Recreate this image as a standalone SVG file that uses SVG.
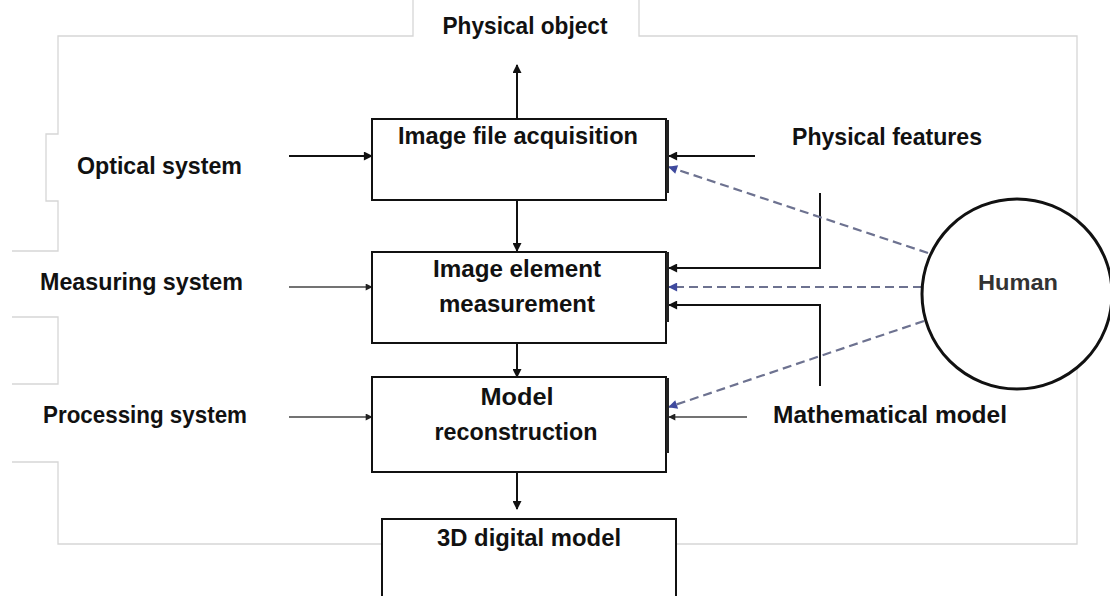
<svg xmlns="http://www.w3.org/2000/svg" width="1110" height="596" viewBox="0 0 1110 596">
  <defs>
    <marker id="ah" viewBox="0 0 10 10" refX="9" refY="5" markerWidth="10" markerHeight="9" markerUnits="userSpaceOnUse" orient="auto">
      <path d="M0,0 L10,5 L0,10 z" fill="#111"/>
    </marker>
    <marker id="ahs" viewBox="0 0 10 10" refX="9" refY="5" markerWidth="8" markerHeight="7" markerUnits="userSpaceOnUse" orient="auto">
      <path d="M0,0 L10,5 L0,10 z" fill="#222"/>
    </marker>
    <marker id="ahb" viewBox="0 0 10 10" refX="9" refY="5" markerWidth="11" markerHeight="9" markerUnits="userSpaceOnUse" orient="auto">
      <path d="M0,0 L10,5 L0,10 z" fill="#3f4a9e"/>
    </marker>
  </defs>
  <style>
    text { font-family: "Liberation Sans", Arial, sans-serif; font-weight: bold; fill: #111; font-size: 24px; }
    .box { fill: #fff; stroke: #111; stroke-width: 2; }
    .bar { stroke: #222; stroke-width: 3; }
    .frame { fill: none; stroke: #d6d6d6; stroke-width: 1.3; }
    .thick { stroke: #111; stroke-width: 2; fill: none; }
    .thin { stroke: #444; stroke-width: 1.3; fill: none; }
    .dash { stroke: #6d7290; stroke-width: 2.2; stroke-dasharray: 9 5; fill: none; }
  </style>
  <rect width="1110" height="596" fill="#fff"/>

  <!-- light outer frame, interrupted by the side labels -->
  <g id="frame" class="frame">
    <path d="M413,0 V36 H58 V134 H46 V201 H58 V251 H12"/>
    <path d="M12,317 H58 V384 H12"/>
    <path d="M12,462 H58 V544 H382"/>
    <path d="M675,544 H1077 V36 H639 V0"/>
  </g>

  <!-- connectors -->
  <g id="connectors">
    <line class="thick" x1="517" y1="118" x2="517" y2="65" marker-end="url(#ah)"/>
    <line class="thick" x1="517" y1="200" x2="517" y2="251" marker-end="url(#ah)"/>
    <line class="thick" x1="517" y1="343" x2="517" y2="377" marker-end="url(#ah)"/>
    <line class="thick" x1="517" y1="472" x2="517" y2="509" marker-end="url(#ah)"/>

    <line class="thick" x1="289" y1="156" x2="372" y2="156" marker-end="url(#ah)"/>
    <line class="thin" x1="289" y1="287" x2="372" y2="287" marker-end="url(#ahs)"/>
    <line class="thin" x1="289" y1="417" x2="372" y2="417" marker-end="url(#ahs)"/>

    <line class="thick" x1="755" y1="156" x2="669" y2="156" marker-end="url(#ah)"/>
    <path class="thick" d="M820,193 V268 H669" marker-end="url(#ah)"/>
    <path class="thick" d="M820,386 V305 H669" marker-end="url(#ah)"/>
    <line class="thin" x1="747" y1="417" x2="669" y2="417" marker-end="url(#ahs)"/>

    <line class="dash" x1="928" y1="253" x2="669" y2="167" marker-end="url(#ahb)"/>
    <line class="dash" x1="922" y1="287" x2="669" y2="287" marker-end="url(#ahb)"/>
    <line class="dash" x1="924" y1="321" x2="669" y2="407" marker-end="url(#ahb)"/>
  </g>

  <g id="physical-object">
    <text x="525" y="34" text-anchor="middle" textLength="165" lengthAdjust="spacingAndGlyphs">Physical object</text>
  </g>

  <g id="optical-system">
    <text x="77" y="174" textLength="165" lengthAdjust="spacingAndGlyphs">Optical system</text>
  </g>
  <g id="measuring-system">
    <text x="40" y="290" textLength="203" lengthAdjust="spacingAndGlyphs">Measuring system</text>
  </g>
  <g id="processing-system">
    <text x="43" y="423" textLength="204" lengthAdjust="spacingAndGlyphs">Processing system</text>
  </g>

  <g id="physical-features">
    <text x="792" y="145" textLength="190" lengthAdjust="spacingAndGlyphs">Physical features</text>
  </g>
  <g id="mathematical-model">
    <text x="773" y="423" textLength="234" lengthAdjust="spacingAndGlyphs">Mathematical model</text>
  </g>

  <g id="image-file-acquisition">
    <rect class="box" x="372" y="119" width="294" height="81"/>
    <line class="bar" x1="667.5" y1="120" x2="667.5" y2="193"/>
    <text x="518" y="144" text-anchor="middle" textLength="240" lengthAdjust="spacingAndGlyphs">Image file acquisition</text>
  </g>

  <g id="image-element-measurement">
    <rect class="box" x="372" y="252" width="294" height="91"/>
    <line class="bar" x1="667.5" y1="252" x2="667.5" y2="322"/>
    <text x="517" y="277" text-anchor="middle" textLength="168" lengthAdjust="spacingAndGlyphs">Image element</text>
    <text x="517" y="312" text-anchor="middle" textLength="156" lengthAdjust="spacingAndGlyphs">measurement</text>
  </g>

  <g id="model-reconstruction">
    <rect class="box" x="372" y="377" width="294" height="95"/>
    <line class="bar" x1="667.5" y1="378" x2="667.5" y2="453"/>
    <text x="517" y="405" text-anchor="middle" textLength="73" lengthAdjust="spacingAndGlyphs">Model</text>
    <text x="516" y="440" text-anchor="middle" textLength="163" lengthAdjust="spacingAndGlyphs">reconstruction</text>
  </g>

  <g id="digital-model">
    <rect class="box" x="382" y="519" width="294" height="90"/>
    <text x="529" y="546" text-anchor="middle" textLength="184" lengthAdjust="spacingAndGlyphs">3D digital model</text>
  </g>

  <g id="human">
    <circle cx="1017" cy="294" r="95" fill="#fff" stroke="#111" stroke-width="3"/>
    <text x="1018" y="290" text-anchor="middle" textLength="80" lengthAdjust="spacingAndGlyphs" style="fill:#333;font-size:22px">Human</text>
  </g>
</svg>
